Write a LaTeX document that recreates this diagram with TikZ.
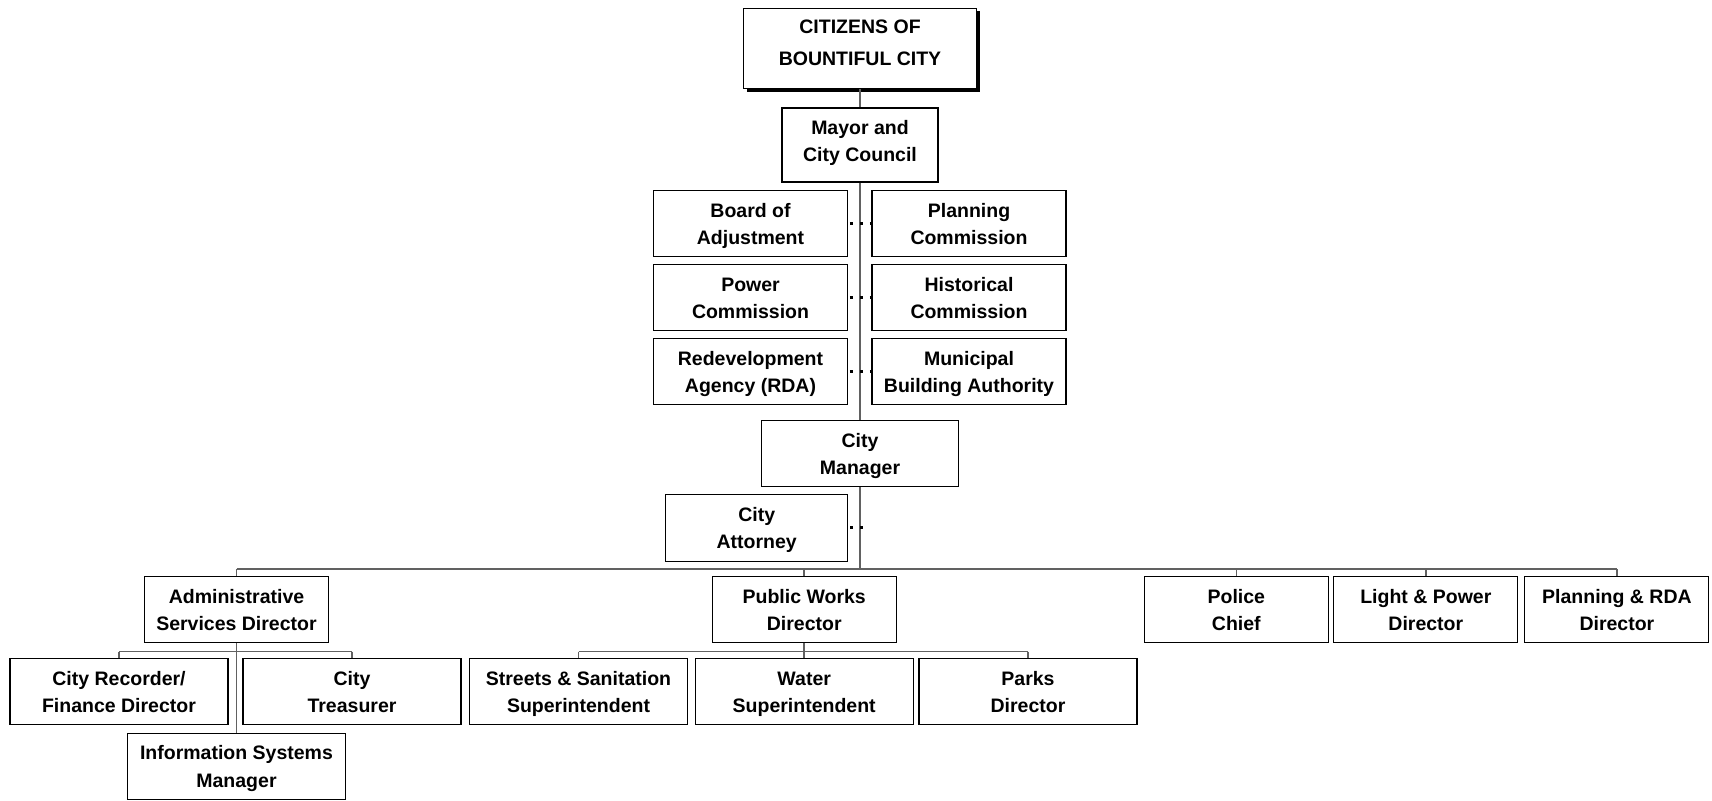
\documentclass[tikz,border=0pt]{standalone}
\usepackage{fontspec}
\setmainfont{Liberation Sans}
\usetikzlibrary{shadows}
\newcommand{\twolinex}[4]{\rule{0pt}{#3}#1\\#2\rule[-#4]{0pt}{#4}}
\newcommand{\twoline}[2]{\twolinex{#1}{#2}{19.5pt}{5pt}}
\begin{document}
\begin{tikzpicture}[x=1pt,y=-1pt,
  box/.style={draw=black, line width=1.1pt, fill=white, align=center, inner sep=0pt,
    font=\fontsize{19.5}{27.3}\selectfont\bfseries, minimum height=66pt},
  wtop/.style={minimum width=194pt},
  wtwo/.style={minimum width=184pt},
  wthree/.style={minimum width=218pt},
  conn/.style={draw=black!62, line width=1.5pt},
  dotline/.style={draw=black, line width=2.7pt, dash pattern=on 2.7pt off 7.3pt, dash phase=8.15pt}]
\useasboundingbox (0,0) rectangle (1712,800);

% top
\node[box, minimum width=233pt, minimum height=80pt, font=\fontsize{19.5}{31.5}\selectfont\bfseries,
  drop shadow={shadow xshift=3pt, shadow yshift=-3pt, opacity=1, fill=black}]
  (citizens) at (860,48.5) {\twolinex{CITIZENS OF}{BOUNTIFUL CITY}{14pt}{12pt}};
\node[box, minimum width=156pt, minimum height=74pt] (mayor) at (860,145) {\twolinex{Mayor and}{City Council}{16pt}{10pt}};

% boards
\node[box, wtop] (board) at (750.5,223.7) {\twoline{Board of}{Adjustment}};
\node[box, wtop] (planning) at (969,223.7) {\twoline{Planning}{Commission}};
\node[box, wtop] (power) at (750.5,297.5) {\twoline{Power}{Commission}};
\node[box, wtop] (historical) at (969,297.5) {\twoline{Historical}{Commission}};
\node[box, wtop] (rda) at (750.5,371.7) {\twoline{Redevelopment}{Agency (RDA)}};
\node[box, wtop] (mba) at (969,371.7) {\twoline{Municipal}{Building Authority}};

\node[box, minimum width=197pt] (manager) at (860,453.7) {\twoline{City}{Manager}};
\node[box, minimum width=182pt, minimum height=67pt] (attorney) at (756.7,527.7) {\twoline{City}{Attorney}};

% level two
\node[box, wtwo] (admin) at (236.5,609.7) {\twoline{Administrative}{Services Director}};
\node[box, wtwo] (pw) at (804.2,609.7) {\twoline{Public Works}{Director}};
\node[box, wtwo] (police) at (1236.3,609.7) {\twoline{Police}{Chief}};
\node[box, wtwo] (light) at (1425.8,609.7) {\twoline{Light \& Power}{Director}};
\node[box, wtwo] (prda) at (1616.9,609.7) {\twoline{Planning \& RDA}{Director}};

% level three
\node[box, wthree] (recorder) at (119,691.7) {\twoline{City Recorder/}{Finance Director}};
\node[box, wthree] (treasurer) at (352,691.7) {\twoline{City}{Treasurer}};
\node[box, wthree] (info) at (236.5,766.2) {\twoline{Information Systems}{Manager}};
\node[box, wthree] (streets) at (578.5,691.7) {\twoline{Streets \& Sanitation}{Superintendent}};
\node[box, wthree] (water) at (804.2,691.7) {\twoline{Water}{Superintendent}};
\node[box, wthree] (parks) at (1028,691.7) {\twoline{Parks}{Director}};

% bus coordinates
\coordinate (busM) at (860,569);
\coordinate (asub) at (236.5,651.5);
\coordinate (psub) at (804.2,651.5);
\coordinate (attdot) at (864,527.7);

% connectors
\draw[conn] (citizens.south) -- (mayor.north);
\draw[conn] (mayor.south) -- (manager.north);
\draw[conn] (manager.south) -- (busM);
\draw[conn] (admin.north |- busM) -- (prda.north |- busM);
\foreach \n in {admin,pw,police,light,prda}
  \draw[conn] (\n.north |- busM) -- (\n.north);

\draw[conn] (admin.south) -- (info.north);
\draw[conn] (recorder.north |- asub) -- (treasurer.north |- asub);
\draw[conn] (recorder.north |- asub) -- (recorder.north);
\draw[conn] (treasurer.north |- asub) -- (treasurer.north);

\draw[conn] (pw.south) -- (water.north);
\draw[conn] (streets.north |- psub) -- (parks.north |- psub);
\draw[conn] (streets.north |- psub) -- (streets.north);
\draw[conn] (parks.north |- psub) -- (parks.north);

% dotted advisory links
\draw[dotline] (board.east) -- (planning.west);
\draw[dotline] (power.east) -- (historical.west);
\draw[dotline] (rda.east) -- (mba.west);
\draw[dotline] (attorney.east) -- (attdot);
\end{tikzpicture}
\end{document}
